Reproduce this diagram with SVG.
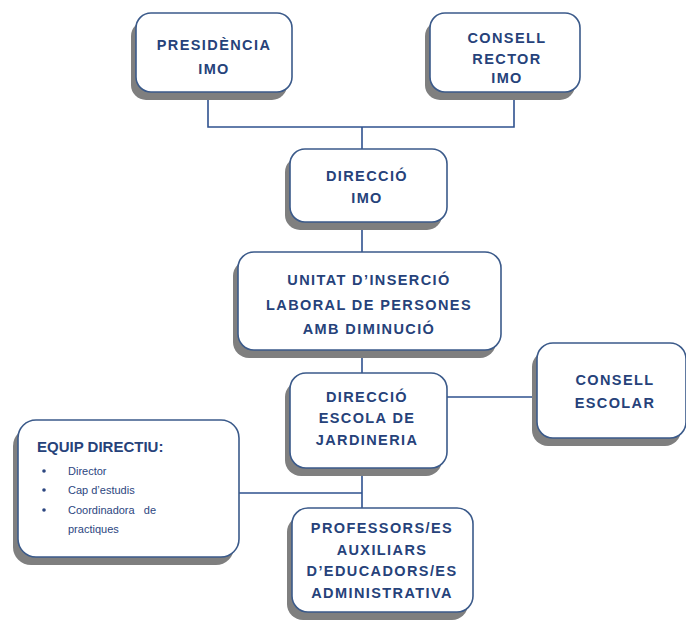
<svg xmlns="http://www.w3.org/2000/svg" width="686" height="626" viewBox="0 0 686 626">
<style>
.sh{fill:#7f7f7f}
.bx{fill:#ffffff;stroke:#3b5a8a;stroke-width:1.6}
.t{font-family:"Liberation Sans",Arial,sans-serif;font-weight:bold;font-size:14.5px;fill:#26427a;text-anchor:middle;letter-spacing:1.4px}
.h{font-family:"Liberation Sans",Arial,sans-serif;font-weight:bold;font-size:15px;fill:#26427a}
.i{font-family:"Liberation Sans",Arial,sans-serif;font-size:11px;fill:#2c4680}
.ln{fill:none;stroke:#2f528f;stroke-width:1.6}
</style>
<rect width="686" height="626" fill="#ffffff"/>
<g id="connectors">
<path class="ln" d="M208 92V127H514V92M362 127V149M362 222V252M362 350V373M447 397H537M362 468V508M239 493H362"/>
</g>
<g id="presidencia">
<rect class="sh" x="131" y="21" width="156" height="79" rx="15"/>
<rect class="bx" x="136" y="13" width="156" height="79" rx="15"/>
<text class="t" x="214" y="50">PRESIDÈNCIA</text>
<text class="t" x="214" y="74">IMO</text>
</g>
<g id="consell-rector">
<rect class="sh" x="425" y="21" width="150" height="79" rx="15"/>
<rect class="bx" x="430" y="13" width="150" height="79" rx="15"/>
<text class="t" x="507" y="43">CONSELL</text>
<text class="t" x="507" y="64">RECTOR</text>
<text class="t" x="507" y="83">IMO</text>
</g>
<g id="direccio-imo">
<rect class="sh" x="285" y="157" width="157" height="73" rx="15"/>
<rect class="bx" x="290" y="149" width="157" height="73" rx="15"/>
<text class="t" x="367" y="181">DIRECCIÓ</text>
<text class="t" x="367" y="203">IMO</text>
</g>
<g id="unitat">
<rect class="sh" x="233" y="260" width="263" height="98" rx="16"/>
<rect class="bx" x="238" y="252" width="263" height="98" rx="16"/>
<text class="t" x="369" y="285">UNITAT D’INSERCIÓ</text>
<text class="t" x="369" y="310">LABORAL DE PERSONES</text>
<text class="t" x="369" y="334">AMB DIMINUCIÓ</text>
</g>
<g id="direccio-escola">
<rect class="sh" x="285" y="381" width="157" height="95" rx="16"/>
<rect class="bx" x="290" y="373" width="157" height="95" rx="16"/>
<text class="t" x="367" y="402">DIRECCIÓ</text>
<text class="t" x="367" y="423">ESCOLA DE</text>
<text class="t" x="367" y="445">JARDINERIA</text>
</g>
<g id="consell-escolar">
<rect class="sh" x="532" y="351" width="149" height="95" rx="16"/>
<rect class="bx" x="537" y="343" width="149" height="95" rx="16"/>
<text class="t" x="615" y="385">CONSELL</text>
<text class="t" x="615" y="408">ESCOLAR</text>
</g>
<g id="equip-directiu">
<rect class="sh" x="13" y="428" width="221" height="137" rx="18"/>
<rect class="bx" x="18" y="420" width="221" height="137" rx="18"/>
<text class="h" x="37" y="452">EQUIP DIRECTIU:</text>
<circle cx="44" cy="471" r="1.8" fill="#2c4680"/>
<circle cx="44" cy="490" r="1.8" fill="#2c4680"/>
<circle cx="44" cy="510" r="1.8" fill="#2c4680"/>
<text class="i" x="68" y="475">Director</text>
<text class="i" x="68" y="494">Cap d’estudis</text>
<text class="i" x="68" y="514" xml:space="preserve">Coordinadora   de</text>
<text class="i" x="68" y="533">practiques</text>
</g>
<g id="professors">
<rect class="sh" x="287" y="516" width="181" height="104" rx="16"/>
<rect class="bx" x="292" y="508" width="181" height="104" rx="16"/>
<text class="t" x="382" y="533">PROFESSORS/ES</text>
<text class="t" x="382" y="555">AUXILIARS</text>
<text class="t" x="382" y="576">D’EDUCADORS/ES</text>
<text class="t" x="382" y="598">ADMINISTRATIVA</text>
</g>
</svg>
